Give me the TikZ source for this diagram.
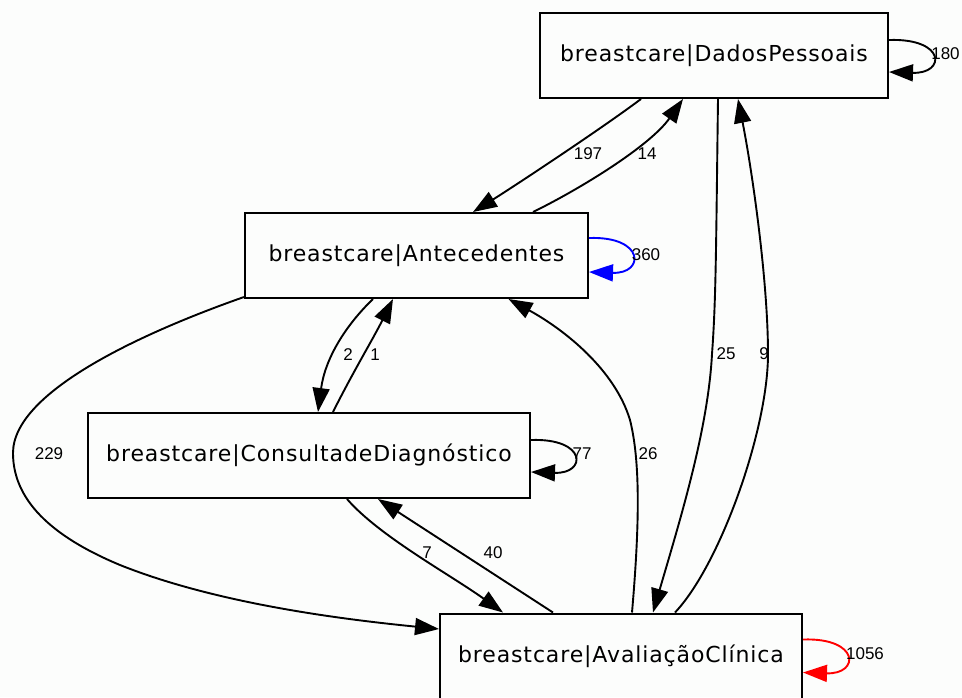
\documentclass[tikz,border=0pt]{standalone}
\usepackage{fontspec}
\newfontfamily\boxfont[LetterSpace=4]{DejaVu Sans}
\newfontfamily\numfont{Liberation Sans}
\usetikzlibrary{arrows.meta,calc}
\definecolor{paper}{RGB}{252,253,252}
\definecolor{loopblue}{RGB}{0,0,255}
\definecolor{loopred}{RGB}{255,0,0}
\begin{document}
\begin{tikzpicture}[x=1pt,y=-1pt,
  state/.style={draw=black, line width=2pt, minimum height=85pt, inner sep=0pt,
    font=\boxfont\fontsize{22}{26}\selectfont},
  flow/.style={line width=1.9pt, -{Triangle[length=24pt,width=17pt]}},
  count/.style={font=\numfont\fontsize{17}{20}\selectfont, inner sep=0pt}]

% page and background
\useasboundingbox (0,0) rectangle (962,697);
\fill[paper] (0,0) rectangle (962,697);

% states
\node[state, minimum width=348pt] (dp) at (714,55.5)  {breastcare|DadosPessoais};
\node[state, minimum width=343pt] (an) at (416.5,255.5) {breastcare|Antecedentes};
\node[state, minimum width=442pt] (cd) at (309,455.5) {breastcare|ConsultadeDiagnóstico};
\node[state, minimum width=362pt] (av) at (621,656)   {breastcare|AvaliaçãoClínica};

% self loops
\draw[flow] ($(dp.east)+(0,-15.5)$) .. controls +(57,-2) and +(57,2) .. ($(dp.east)+(0,16.5)$);
\draw[flow, loopblue] ($(an.east)+(0,-17.5)$) .. controls +(56,-2) and +(56,2) .. ($(an.east)+(0,16.5)$);
\draw[flow] ($(cd.east)+(0,-15.5)$) .. controls +(56,-2) and +(56,2) .. ($(cd.east)+(0,16.5)$);
\draw[flow, loopred] ($(av.east)+(0,-16.5)$) .. controls +(57,-2) and +(57,2) .. ($(av.east)+(0,16.5)$);

% DadosPessoais <-> Antecedentes
\draw[flow] ($(dp.south)+(-73,0)$) .. controls +(-40,30) and +(40,-25) .. ($(an.north)+(56.5,0)$);
\draw[flow] ($(an.north)+(116.5,0)$) .. controls +(47,-23) and +(-33,47) .. ($(dp.south)+(-31,0)$);

% Antecedentes <-> ConsultadeDiagnostico
\draw[flow] ($(an.south)+(-43.5,0)$) .. controls +(-28,27) and +(7,-53) .. ($(cd.north)+(9,0)$);
\draw[flow] ($(cd.north)+(24,0)$) .. controls +(20,-40) and +(-20,40) .. ($(an.south)+(-23.5,0)$);

% Antecedentes -> AvaliacaoClinica (long way round)
\draw[flow] ($(an.west)+(0,41.5)$) .. controls (150,330) and (13,390) .. (13,453)
  .. controls (13,505) and (60,540) .. (120,565)
  .. controls (220,605) and (350,620) .. ($(av.west)+(0,-27)$);

% ConsultadeDiagnostico <-> AvaliacaoClinica
\draw[flow] ($(cd.south)+(38,0)$) .. controls +(32,37) and +(-53,-38) .. ($(av.north)+(-118,0)$);
\draw[flow] ($(av.north)+(-68,0)$) -- ($(cd.south)+(69,0)$);

% DadosPessoais <-> AvaliacaoClinica
\draw[flow] ($(dp.south)+(4,0)$) .. controls (716,250) and (716,300) .. (712,354)
  .. controls (708,430) and (680,520) .. ($(av.north)+(32,0)$);
\draw[flow] ($(av.north)+(54,0)$) .. controls (720,565) and (768,430) .. (768,354)
  .. controls (768,280) and (752,170) .. ($(dp.south)+(24,0)$);

% AvaliacaoClinica -> Antecedentes
\draw[flow] ($(av.north)+(11,0)$) .. controls (640,520) and (640,460) .. (630,420)
  .. controls (615,370) and (565,330) .. ($(an.south)+(92,0)$);

% transition counts
\node[count] (n180)  at (945.5,54) {180};
\node[count] (n360)  at (646,255)  {360};
\node[count] (n77)   at (582,454)  {77};
\node[count] (n1056) at (865,654)  {1056};
\node[count] (n197)  at (588,154)  {197};
\node[count] (n14)   at (647,154)  {14};
\node[count] (n2)    at (348,355)  {2};
\node[count] (n1)    at (375,355)  {1};
\node[count] (n229)  at (49,454)   {229};
\node[count] (n7)    at (427,553)  {7};
\node[count] (n40)   at (493,553)  {40};
\node[count] (n25)   at (726,354)  {25};
\node[count] (n9)    at (764,354)  {9};
\node[count] (n26)   at (648,454)  {26};
\end{tikzpicture}
\end{document}
